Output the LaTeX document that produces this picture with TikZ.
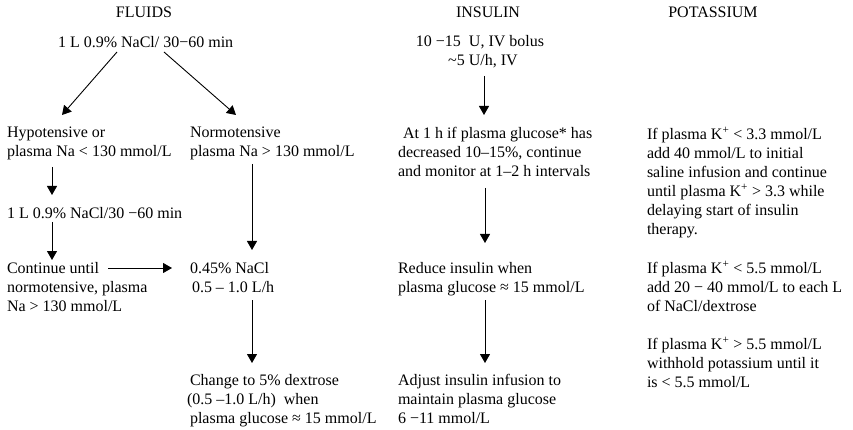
\documentclass[tikz,border=0pt]{standalone}
\usepackage{fontspec}
\setmainfont{Liberation Serif}
\usetikzlibrary{arrows.meta,calc}
\begin{document}
\begin{tikzpicture}[x=1pt,y=-1pt,
  txt/.style={inner sep=0pt, outer sep=0pt, align=left, anchor=north west,
    font=\fontsize{16}{19}\selectfont},
  ctxt/.style={txt, align=center, anchor=north},
  head/.style={inner sep=0pt, outer sep=0pt, anchor=base,
    font=\fontsize{16}{19}\selectfont},
  arr/.style={-{Triangle[length=9pt,width=10pt]}, line width=0.9pt}]
\useasboundingbox[fill=white] (0,0) rectangle (853,430);

% column headings
\node[head] (hfl)  at (144,18) {FLUIDS};
\node[head] (hins) at (488,18) {INSULIN};
\node[head] (hk)   at (713,18) {POTASSIUM};

% fluids
\node[txt] (flstart) at (58,36)  {1 L 0.9\% NaCl/ 30−60 min};
\node[txt] (hypo)    at (7,127)  {Hypotensive or\\plasma Na < 130 mmol/L};
\node[txt] (normo)   at (190,127){Normotensive\\plasma Na > 130 mmol/L};
\node[txt] (saline)  at (7,207)  {1 L 0.9\% NaCl/30 −60 min};
\node[txt] (cont)    at (7,262)  {Continue until\\normotensive, plasma\\Na > 130 mmol/L};
\node[txt] (half)    at (190,262){0.45\% NaCl\\ \hspace*{2pt}0.5 – 1.0 L/h};
\node[txt] (dex)     at (190,374){Change to 5\% dextrose\\\hspace*{-3pt}(0.5 –1.0 L/h)\ \ when\\plasma glucose ≈ 15 mmol/L};

% insulin
\node[ctxt] (bolus)   at (480,35) {10 −15\ \ U, IV bolus\\\hspace*{6pt}\textasciitilde5 U/h, IV};
\node[txt]  (monitor) at (398,127){\hspace*{5pt}At 1 h if plasma glucose* has\\decreased 10–15\%, continue\\and monitor at 1–2 h intervals};
\node[txt]  (reduce)  at (398,262){Reduce insulin when\\plasma glucose ≈ 15 mmol/L};
\node[txt]  (adjust)  at (398,374){Adjust insulin infusion to\\maintain plasma glucose\\6 −11 mmol/L};

% potassium
\node[txt] (klow)  at (647,127){If plasma K\textsuperscript{+} < 3.3 mmol/L\\add 40 mmol/L to initial\\saline infusion and continue\\until plasma K\textsuperscript{+} > 3.3 while\\delaying start of insulin\\therapy.};
\node[txt] (kmid)  at (647,261){If plasma K\textsuperscript{+} < 5.5 mmol/L\\add 20 − 40 mmol/L to each L\\of NaCl/dextrose};
\node[txt] (khigh) at (647,337){If plasma K\textsuperscript{+} > 5.5 mmol/L\\withhold potassium until it\\is < 5.5 mmol/L};

% fluids connectors
\draw[arr] ($(flstart.north west)+(59,16)$) -- ($(hypo.north west)+(55,-12)$);
\draw[arr] ($(flstart.north west)+(106,16)$) -- ($(normo.north west)+(46,-12)$);
\draw[arr] ($(hypo.north west)+(45,40)$) -- ($(saline.north west)+(45,-12)$);
\draw[arr] ($(saline.north west)+(45,15)$) -- ($(cont.north west)+(45,-2)$);
\draw[arr] ($(cont.north west)+(101,6)$) -- ($(half.north west)+(-18,6)$);
\draw[arr] ($(normo.north west)+(62,37)$) -- ($(half.north west)+(62,-12)$);
\draw[arr] ($(half.north west)+(62,38)$) -- ($(dex.north west)+(62,-11)$);

% insulin connectors
\draw[arr] ($(bolus.north)+(4,41)$) -- ($(monitor.north west)+(86,-12)$);
\draw[arr] ($(monitor.north west)+(87,61)$) -- ($(reduce.north west)+(87,-19)$);
\draw[arr] ($(reduce.north west)+(87,38)$) -- ($(adjust.north west)+(87,-11)$);
\end{tikzpicture}
\end{document}
